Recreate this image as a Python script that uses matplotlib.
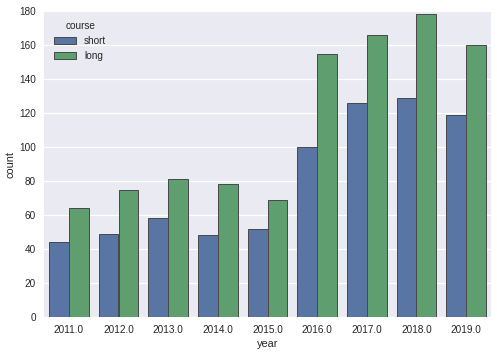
import numpy as np
import matplotlib
matplotlib.use("Agg")
import matplotlib.pyplot as plt

years = ["2011.0", "2012.0", "2013.0", "2014.0", "2015.0", "2016.0", "2017.0", "2018.0", "2019.0"]
short_counts = [44, 49, 58, 48, 52, 100, 126, 129, 119]
long_counts = [64, 75, 81, 78, 69, 155, 166, 178, 160]
series_names = ["short", "long"]
series_colors = ["#5975a4", "#5f9e6e"]

plt.rcParams["font.family"] = ["Liberation Sans", "DejaVu Sans"]

fig = plt.figure(figsize=(497 / 72, 356 / 72), dpi=72)
ax = fig.add_axes([44 / 497, 1 - 317 / 356, (491 - 44) / 497, (317 - 11) / 356])
ax.set_facecolor("#EAEAF2")
for s in ax.spines.values():
    s.set_visible(False)

x = np.arange(len(years))
w = 0.4
for i, (vals, name, col) in enumerate(zip([short_counts, long_counts], series_names, series_colors)):
    ax.bar(x - w / 2 + i * w, vals, width=w, color=col, edgecolor="#4a4a4a",
           linewidth=1.0, label=name, zorder=2)

ax.set_ylim(0, 180)
ax.set_yticks(np.arange(0, 181, 20))
ax.set_xlim(-0.5, len(years) - 0.5)
ax.set_xticks(x)
ax.set_xticklabels(years)
ax.yaxis.grid(True, color="white", linewidth=1.2, zorder=0)
ax.set_axisbelow(True)
ax.tick_params(length=0, labelsize=10, colors="#262626", pad=8)
ax.set_xlabel("year", fontsize=11, color="#262626", labelpad=4)
ax.set_ylabel("count", fontsize=11, color="#262626", labelpad=4)

leg = ax.legend(title="course", loc="upper left", frameon=False, fontsize=10,
                title_fontsize=10, handlelength=2.2, borderaxespad=0.6)
for t in leg.get_texts():
    t.set_color("#262626")
leg.get_title().set_color("#262626")

fig.savefig("out.png", dpi=72)
